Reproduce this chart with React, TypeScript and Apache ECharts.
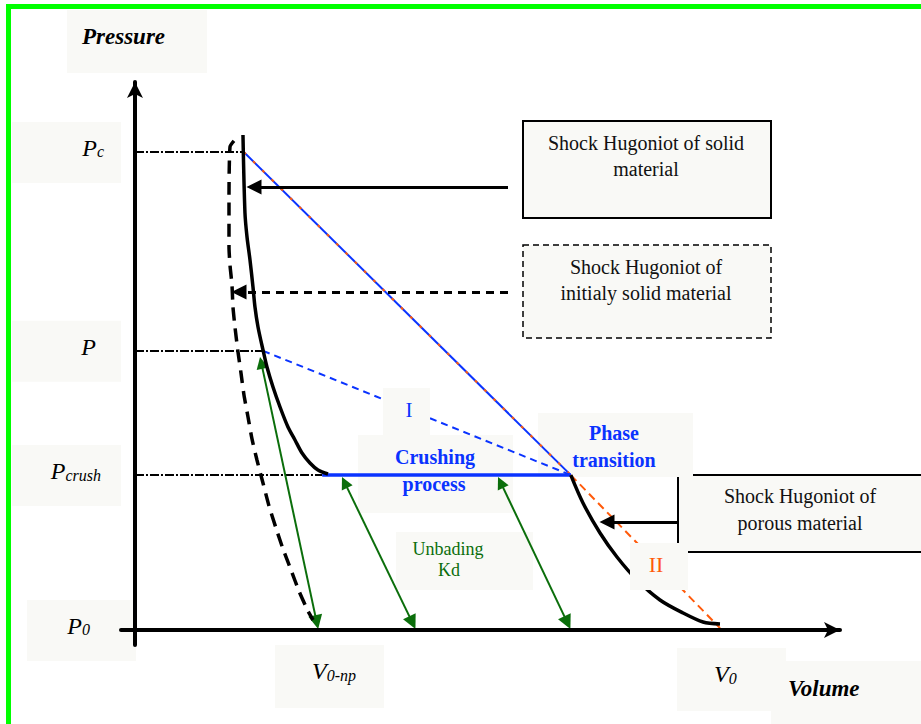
import React, { useEffect, useRef } from "react";
import * as echarts from "echarts";

// ---------- data (volume V, pressure P, normalised: V0 = 1, Pc = 1) ----------
const X_RANGE = [-0.0239, 1.2051];
const Y_RANGE = [-0.0314, 1.1464];

const PRESSURE_TICKS = [1.0, 0.584, 0.324, 0];
const PRESSURE_TICK_MAIN = ["P", "P", "P", "P"];
const PRESSURE_TICK_SUB = ["c", "", "crush", "0"];
const VOLUME_TICKS = [0.313, 1.0];
const VOLUME_TICK_MAIN = ["V", "V"];
const VOLUME_TICK_SUB = ["0-np", "0"];

// Shock Hugoniot of solid material
const SOLID_V = [0.1846, 0.188, 0.1915, 0.1966, 0.2017, 0.2051, 0.2103, 0.2188, 0.2256, 0.2359, 0.2479, 0.2615, 0.2735, 0.2855, 0.2991, 0.3128, 0.3299];
const SOLID_P = [1.0356, 0.8724, 0.8222, 0.7741, 0.7176, 0.6757, 0.6339, 0.5858, 0.5502, 0.5084, 0.4665, 0.4247, 0.3975, 0.3703, 0.3494, 0.3347, 0.3264];

// Shock Hugoniot of initially solid material (dashed)
const INIT_V = [0.1692, 0.1624, 0.1607, 0.1607, 0.1624, 0.1658, 0.1675, 0.1709, 0.1761, 0.1812, 0.1863, 0.1932, 0.2, 0.2085, 0.2188, 0.2291, 0.241, 0.253, 0.2667, 0.2803, 0.2957, 0.3043];
const INIT_P = [1.023, 1.0105, 0.8996, 0.8013, 0.7636, 0.7218, 0.6757, 0.6339, 0.5816, 0.5377, 0.4916, 0.4456, 0.3996, 0.3556, 0.3075, 0.2594, 0.2134, 0.1695, 0.1255, 0.0816, 0.0397, 0.0209];

// Shock Hugoniot of porous material
const POROUS_V = [0.745, 0.7658, 0.7949, 0.8239, 0.8581, 0.8974, 0.9368, 0.9709, 1.0];
const POROUS_P = [0.324, 0.2657, 0.2029, 0.1527, 0.1046, 0.0628, 0.0356, 0.0167, 0.0126];

// straight segments [start, end]
const RAYLEIGH_SOLID_V = [0.186, 0.745];
const RAYLEIGH_SOLID_P = [1.0, 0.324];
const RAYLEIGH_I_V = [0.219, 0.745];
const RAYLEIGH_I_P = [0.584, 0.324];
const CRUSH_V = [0.32, 0.745];
const CRUSH_P = [0.324, 0.324];
const RAYLEIGH_II_V = [0.745, 1.0];
const RAYLEIGH_II_P = [0.324, 0.004];

// unloading Kd arrows (top end, bottom end)
const UNLOAD_TOP_V = [0.2159, 0.3583, 0.625];
const UNLOAD_TOP_P = [0.5588, 0.3088, 0.3088];
const UNLOAD_BOT_V = [0.3106, 0.4742, 0.7391];
const UNLOAD_BOT_P = [0.0165, 0.0155, 0.0155];

// pointer arrows from the text boxes
const POINTER_SOLID_FROM_V = [0.6376, 0.9282];
const POINTER_SOLID_TO_V = [0.2034, 0.8068];
const POINTER_SOLID_P = [0.9268, 0.2259];
const POINTER_DASH_FROM_V = [0.6376];
const POINTER_DASH_TO_V = [0.1778];
const POINTER_DASH_P = [0.7071];

// dash-dot reference lines from the pressure axis
const REF_P = [1.0, 0.584, 0.324];
const REF_END_V = [0.186, 0.219, 0.32];

// ---------- styles ----------
const BLUE = "#0a33ff";
const ORANGE = "#ff5a0a";
const GREEN = "#0b6e0b";
const BOX = "#f9f9f6";
const SERIF = "'Liberation Serif', 'DejaVu Serif', serif";

const zip = (a: number[], b: number[]) => a.map((v, i) => [v, b[i]]);
const segs = (v1: number[], p1: number[], v2: number[], p2: number[]) =>
  v1.map((v, i) => ({ coords: [[v, p1[i]], [v2[i], p2[i]]] }));

export default function App() {
  const ref = useRef<HTMLDivElement>(null);

  useEffect(() => {
    if (!ref.current) return;
    const chart = echarts.init(ref.current, undefined, { renderer: "svg" });

    const axisCommon = {
      type: "value",
      z: 4,
      axisLine: {
        onZero: true,
        symbol: ["none", "arrow"],
        symbolSize: [12, 16],
        lineStyle: { color: "#000", width: 4 },
      },
      axisTick: { show: false },
      axisLabel: { show: false },
      splitLine: { show: false },
    };

    const linesBase = {
      type: "lines",
      coordinateSystem: "cartesian2d",
      silent: true,
      polyline: false,
    };

    chart.setOption({
      animation: false,
      backgroundColor: "#ffffff",
      grid: { left: 121, top: 82, right: 81, bottom: 79, containLabel: false },
      xAxis: { ...axisCommon, min: X_RANGE[0], max: X_RANGE[1] },
      yAxis: { ...axisCommon, min: Y_RANGE[0], max: Y_RANGE[1] },
      series: [
        {
          ...linesBase,
          name: "reference levels",
          symbol: ["none", "none"],
          lineStyle: { color: "#000", width: 2, type: [9, 2, 2, 2], opacity: 1 },
          data: segs(REF_P.map(() => 0), REF_P, REF_END_V, REF_P),
        },
        {
          type: "line",
          name: "Shock Hugoniot of initialy solid material",
          data: zip(INIT_V, INIT_P),
          showSymbol: false,
          smooth: 0.2,
          silent: true,
          lineStyle: { color: "#000", width: 3.5, type: [13, 8] },
        },
        {
          type: "line",
          name: "Shock Hugoniot of solid material",
          data: zip(SOLID_V, SOLID_P),
          showSymbol: false,
          smooth: 0.3,
          silent: true,
          lineStyle: { color: "#000", width: 3.5 },
        },
        {
          type: "line",
          name: "Shock Hugoniot of porous material",
          data: zip(POROUS_V, POROUS_P),
          showSymbol: false,
          smooth: 0.3,
          silent: true,
          lineStyle: { color: "#000", width: 3.5 },
        },
        {
          ...linesBase,
          name: "Rayleigh solid",
          symbol: ["none", "none"],
          lineStyle: { color: BLUE, width: 2, opacity: 1 },
          data: segs([RAYLEIGH_SOLID_V[0]], [RAYLEIGH_SOLID_P[0]], [RAYLEIGH_SOLID_V[1]], [RAYLEIGH_SOLID_P[1]]),
        },
        {
          ...linesBase,
          name: "Rayleigh solid overlay",
          symbol: ["none", "none"],
          lineStyle: { color: ORANGE, width: 2, type: [3, 10], opacity: 1 },
          data: segs([RAYLEIGH_SOLID_V[0]], [RAYLEIGH_SOLID_P[0]], [RAYLEIGH_SOLID_V[1]], [RAYLEIGH_SOLID_P[1]]),
        },
        {
          ...linesBase,
          name: "Rayleigh I",
          symbol: ["none", "none"],
          lineStyle: { color: BLUE, width: 2, type: [7, 5], opacity: 1 },
          data: segs([RAYLEIGH_I_V[0]], [RAYLEIGH_I_P[0]], [RAYLEIGH_I_V[1]], [RAYLEIGH_I_P[1]]),
        },
        {
          ...linesBase,
          name: "Crushing",
          symbol: ["none", "none"],
          lineStyle: { color: BLUE, width: 3.5, opacity: 1 },
          data: segs([CRUSH_V[0]], [CRUSH_P[0]], [CRUSH_V[1]], [CRUSH_P[1]]),
        },
        {
          ...linesBase,
          name: "Rayleigh II",
          symbol: ["none", "none"],
          lineStyle: { color: ORANGE, width: 2, type: [8, 5], opacity: 1 },
          data: segs([RAYLEIGH_II_V[0]], [RAYLEIGH_II_P[0]], [RAYLEIGH_II_V[1]], [RAYLEIGH_II_P[1]]),
        },
        {
          ...linesBase,
          name: "Unloading Kd",
          symbol: ["triangle", "triangle"],
          symbolSize: [12, 14],
          lineStyle: { color: GREEN, width: 2, opacity: 1 },
          itemStyle: { color: GREEN },
          data: segs(UNLOAD_TOP_V, UNLOAD_TOP_P, UNLOAD_BOT_V, UNLOAD_BOT_P),
        },
        {
          ...linesBase,
          name: "pointers",
          symbol: ["none", "triangle"],
          symbolSize: [14, 15],
          lineStyle: { color: "#000", width: 3, opacity: 1 },
          itemStyle: { color: "#000" },
          data: segs(POINTER_SOLID_FROM_V, POINTER_SOLID_P, POINTER_SOLID_TO_V, POINTER_SOLID_P),
        },
        {
          ...linesBase,
          name: "pointer dashed",
          symbol: ["none", "triangle"],
          symbolSize: [14, 15],
          lineStyle: { color: "#000", width: 3, type: [8, 6], opacity: 1 },
          itemStyle: { color: "#000" },
          data: segs(POINTER_DASH_FROM_V, POINTER_DASH_P, POINTER_DASH_TO_V, POINTER_DASH_P),
        },
      ],
    });

    const toPx = (v: number, p: number) =>
      chart.convertToPixel({ gridIndex: 0 }, [v, p]) as number[];

    const rect = (x: number, y: number, w: number, h: number, z: number, style: any = {}) => ({
      type: "rect",
      silent: true,
      z,
      shape: { x, y, width: w, height: h },
      style: { fill: BOX, ...style },
    });
    const text = (x: number, y: number, t: string, font: string, fill: string, z: number, align = "center") => ({
      type: "text",
      silent: true,
      z,
      style: { x, y, text: t, font, fill, align, verticalAlign: "middle" },
    });

    const g: any[] = [];
    // green frame
    g.push({ type: "rect", silent: true, z: 20, shape: { x: 6, y: 4, width: 915, height: 5 }, style: { fill: "#00ff00" } });
    g.push({ type: "rect", silent: true, z: 20, shape: { x: 6, y: 4, width: 5, height: 720 }, style: { fill: "#00ff00" } });

    // axis titles
    g.push(rect(67, 10, 140, 63, 1));
    g.push(text(82, 36, "Pressure", `italic bold 23px ${SERIF}`, "#000", 3, "left"));
    g.push(rect(771, 661, 150, 63, 1));
    g.push(text(788, 688, "Volume", `italic bold 23px ${SERIF}`, "#000", 3, "left"));

    const rich = {
      p: { fontFamily: SERIF, fontStyle: "italic", fontSize: 24, fill: "#000", verticalAlign: "bottom", lineHeight: 26 },
      s: { fontFamily: SERIF, fontStyle: "italic", fontSize: 16, fill: "#000", verticalAlign: "bottom", lineHeight: 26 },
    };

    // pressure tick labels
    const pBoxLeft = [12, 12, 12, 27];
    const pTextRight = [104, 96, 101, 90];
    PRESSURE_TICKS.forEach((p, i) => {
      const py = toPx(0, p)[1];
      g.push(rect(pBoxLeft[i], py - 30, 109, 61, 1));
      const sub = PRESSURE_TICK_SUB[i];
      g.push({
        type: "text",
        silent: true,
        z: 3,
        style: {
          x: pTextRight[i],
          y: py - 5,
          text: `{p|${PRESSURE_TICK_MAIN[i]}}` + (sub ? `{s|${sub}}` : ""),
          rich,
          align: "right",
          verticalAlign: "middle",
        },
      });
    });

    // volume tick labels
    const vBoxTop = [645, 648];
    const vTextY = [670, 673];
    VOLUME_TICKS.forEach((v, i) => {
      const px = toPx(v, 0)[0];
      g.push(rect(px - 43, vBoxTop[i], 109, 63, 1));
      g.push({
        type: "text",
        silent: true,
        z: 3,
        style: {
          x: px - 6,
          y: vTextY[i],
          text: `{p|${VOLUME_TICK_MAIN[i]}}{s|${VOLUME_TICK_SUB[i]}}`,
          rich,
          align: "left",
          verticalAlign: "middle",
        },
      });
    });

    // annotation boxes
    const boxFont = `20px ${SERIF}`;
    g.push(rect(523, 121, 248, 97, 1, { stroke: "#000", lineWidth: 2 }));
    g.push(text(646, 143, "Shock Hugoniot of solid", boxFont, "#111", 3));
    g.push(text(646, 169, "material", boxFont, "#111", 3));

    g.push(rect(523, 245, 248, 93, 1, { stroke: "#000", lineWidth: 1.5, lineDash: [6, 4] }));
    g.push(text(646, 267, "Shock Hugoniot of", boxFont, "#111", 3));
    g.push(text(646, 293, "initialy solid material", boxFont, "#111", 3));

    g.push(rect(678, 475, 260, 77, 1, { stroke: "#000", lineWidth: 2 }));
    g.push(text(800, 496, "Shock Hugoniot of", boxFont, "#111", 3));
    g.push(text(800, 523, "porous material", boxFont, "#111", 3));

    const boldBlue = `bold 20px ${SERIF}`;
    g.push(rect(538, 413, 155, 64, 1));
    g.push(text(614, 433, "Phase", boldBlue, BLUE, 3));
    g.push(text(614, 460, "transition", boldBlue, BLUE, 3));

    g.push(rect(358, 435, 155, 78, 1));
    g.push(text(435, 457, "Crushing", boldBlue, BLUE, 3));
    g.push(text(434, 484, "process", boldBlue, BLUE, 3));

    g.push(rect(383, 388, 47, 47, 10));
    g.push(text(409, 410, "I", `21px ${SERIF}`, BLUE, 11));

    g.push(rect(396, 532, 137, 58, 1));
    g.push(text(448, 549, "Unbading", `18px ${SERIF}`, GREEN, 3));
    g.push(text(449, 570, "Kd", `18px ${SERIF}`, GREEN, 3));

    g.push(rect(630, 543, 58, 47, 10));
    g.push(text(656, 564, "II", `22px ${SERIF}`, ORANGE, 11));

    chart.setOption({ graphic: g });

    return () => chart.dispose();
  }, []);

  return (
    <div
      ref={ref}
      style={{ position: "fixed", left: 0, top: 0, width: 921, height: 724, background: "#fff" }}
    />
  );
}
